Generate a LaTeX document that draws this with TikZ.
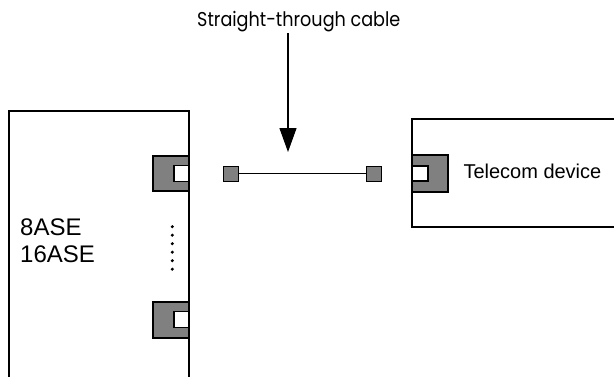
\documentclass[tikz,border=0pt]{standalone}
\usepackage{fontspec}
\setmainfont{Liberation Sans}
\newfontfamily\labelfont[FakeStretch=0.88]{Poppins}
\usetikzlibrary{arrows.meta}

\begin{document}
\begin{tikzpicture}[x=1pt, y=-1pt,
  box/.style={draw, line width=1.2pt, fill=white, inner sep=0pt},
  port/.style={draw, line width=1.2pt, fill=gray, inner sep=0pt},
  hole/.style={draw, line width=1.2pt, fill=white, inner sep=0pt},
  plug/.style={draw, line width=1pt, fill=gray, inner sep=0pt, minimum size=15pt}]
  \clip (0,0) rectangle (614,376);
  \node[box, minimum width=180pt, minimum height=290pt] (ase) at (99,256) {};
  \node[port, minimum width=36pt, minimum height=35pt] (portA) at (171,173.5) {};
  \node[hole, minimum width=15pt, minimum height=16pt] (holeA) at (181.5,173.5) {};
  \node[port, minimum width=36pt, minimum height=36pt] (portB) at (171,320) {};
  \node[hole, minimum width=15pt, minimum height=16pt] (holeB) at (181.5,319.5) {};
  \draw[line width=1.2pt] (ase.north west) -- (ase.north east) -- (ase.south east);
  \foreach \i in {0,...,5}
    \fill (172.3,226.7+8.5*\i) circle (1.7pt);
  \node[anchor=base west, inner sep=0pt, font=\fontsize{24}{28}\selectfont] (ase8) at (20,235.7) {8ASE};
  \node[anchor=base west, inner sep=0pt, font=\fontsize{24}{28}\selectfont] (ase16) at (20,262.7) {16ASE};
  \node[box, minimum width=230pt, minimum height=108pt] (tel) at (527,173) {};
  \node[port, minimum width=36pt, minimum height=37pt] (portT) at (430,173.5) {};
  \node[hole, minimum width=16pt, minimum height=15pt] (holeT) at (420,173.5) {};
  \draw[line width=1.2pt] (tel.north west) -- (tel.south west);
  \node[anchor=base west, inner sep=0pt, font=\fontsize{20}{24}\selectfont] (teltext) at (463.3,178.3) {Telecom device};
  \node[plug] (plugL) at (230.5,173.5) {};
  \node[plug] (plugR) at (373.5,173.5) {};
  \draw[line width=1pt] (plugL) -- (plugR);
  \node[anchor=base west, inner sep=0pt, font=\labelfont\fontsize{20}{24}\selectfont] (cable) at (197,26.5) {Straight-through cable};
  \coordinate (tip) at (288,152);
  \draw[line width=1.2pt, -{Triangle[length=24pt, width=17pt]}] (tip |- 0,33) -- (tip);
\end{tikzpicture}
\end{document}
